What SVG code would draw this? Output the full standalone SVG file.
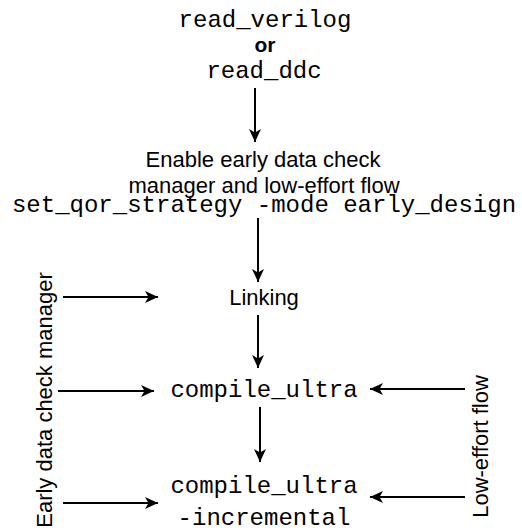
<svg xmlns="http://www.w3.org/2000/svg" width="522" height="531" viewBox="0 0 522 531">
<defs>
<style>
.mono{font-family:"Liberation Mono","Courier New",monospace;font-size:24px;fill:#000;text-anchor:middle}
.sans{font-family:"Liberation Sans",Arial,sans-serif;font-size:22px;fill:#000;text-anchor:middle}
.bold{font-weight:bold;font-size:21px}
.edge{stroke:#000;stroke-width:2;fill:none;marker-end:url(#arr)}
</style>
<marker id="arr" viewBox="0 0 13 12" refX="13" refY="6" markerWidth="13" markerHeight="12" markerUnits="userSpaceOnUse" orient="auto">
<path d="M0,0 L13,6 L0,12 L3.5,6 Z" fill="#000"/>
</marker>
</defs>
<rect width="522" height="531" fill="#fff"/>
<g id="read">
<text class="mono" x="265" y="27">read_verilog</text>
<text class="sans bold" x="265" y="52">or</text>
<text class="mono" x="264" y="78">read_ddc</text>
</g>
<g id="enable">
<text class="sans" x="263" y="167">Enable early data check</text>
<text class="sans" x="264" y="193">manager and low-effort flow</text>
<text class="mono" x="264" y="212">set_qor_strategy -mode early_design</text>
</g>
<g id="linking">
<text class="sans" x="264" y="305">Linking</text>
</g>
<g id="compile">
<text class="mono" x="264" y="397">compile_ultra</text>
</g>
<g id="compile-inc">
<text class="mono" x="264" y="493">compile_ultra</text>
<text class="mono" x="264" y="525">-incremental</text>
</g>
<g id="early-label">
<text class="sans" transform="translate(52,400) rotate(-90)" x="0" y="0">Early data check manager</text>
</g>
<g id="low-label">
<text class="sans" transform="translate(488,446.5) rotate(-90)" x="0" y="0">Low-effort flow</text>
</g>
<g id="connectors">
<line class="edge" x1="255" y1="88" x2="255" y2="142"/>
<line class="edge" x1="258" y1="218" x2="258" y2="282"/>
<line class="edge" x1="258" y1="315" x2="258" y2="368"/>
<line class="edge" x1="260" y1="407" x2="260" y2="462"/>
<line class="edge" x1="63" y1="297" x2="158" y2="297"/>
<line class="edge" x1="58" y1="391" x2="154" y2="391"/>
<line class="edge" x1="63" y1="503" x2="158" y2="503"/>
<line class="edge" x1="465" y1="389" x2="370" y2="389"/>
<line class="edge" x1="465" y1="497" x2="370" y2="497"/>
</g>
</svg>
